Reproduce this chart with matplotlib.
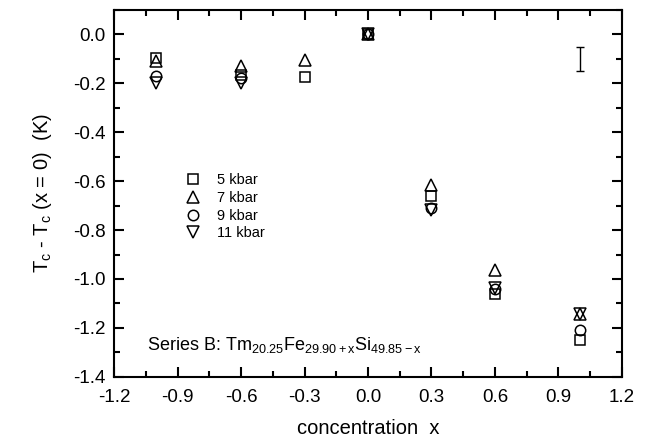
import numpy as np
import matplotlib.pyplot as plt
from matplotlib.ticker import MultipleLocator

plt.rcParams['font.family'] = ['Liberation Sans', 'DejaVu Sans']
plt.rcParams['mathtext.fontset'] = 'custom'
plt.rcParams['mathtext.rm'] = 'Liberation Sans'
plt.rcParams['mathtext.it'] = 'Liberation Sans'

conc = [-1.0, -0.6, -0.3, 0.0, 0.3, 0.6, 1.0]
dtc_5 = [-0.095, -0.165, -0.175, 0.0, -0.66, -1.06, -1.25]
dtc_7 = [-0.11, -0.13, -0.105, 0.0, -0.615, -0.965, -1.145]
dtc_9 = [-0.17, -0.18, np.nan, 0.0, -0.71, -1.04, -1.21]
dtc_11 = [-0.20, -0.20, np.nan, 0.0, -0.72, -1.035, -1.145]

err_x = 1.0
err_y = -0.10
err_size = 0.05

fig = plt.figure(figsize=(6.56, 4.46), dpi=100)
ax = fig.add_axes([0.174, 0.155, 0.774, 0.823])

ax.plot(conc, dtc_5, 's', ms=6.5, mfc='none', mec='black', mew=1.1, label='5 kbar')
ax.plot(conc, dtc_7, '^', ms=8.5, mfc='none', mec='black', mew=1.1, label='7 kbar')
ax.plot(conc, dtc_9, 'o', ms=7.5, mfc='none', mec='black', mew=1.1, label='9 kbar')
ax.plot(conc, dtc_11, 'v', ms=8.5, mfc='none', mec='black', mew=1.1, label='11 kbar')

ax.errorbar([err_x], [err_y], yerr=[err_size], fmt='none', ecolor='black',
            elinewidth=1.0, capsize=3, capthick=1.0)

ax.set_xlim(-1.2, 1.2)
ax.set_ylim(-1.4, 0.1)
ax.xaxis.set_major_locator(MultipleLocator(0.3))
ax.xaxis.set_minor_locator(MultipleLocator(0.15))
ax.yaxis.set_major_locator(MultipleLocator(0.2))
ax.yaxis.set_minor_locator(MultipleLocator(0.1))
ax.xaxis.set_major_formatter(plt.FormatStrFormatter('%.1f'))
ax.yaxis.set_major_formatter(plt.FormatStrFormatter('%.1f'))
ax.tick_params(which='both', direction='in', top=True, right=True, width=1.5, labelsize=13.5)
ax.tick_params(which='major', length=7, pad=6)
ax.tick_params(axis='x', which='major', pad=9)
ax.tick_params(which='minor', length=4)
for s in ax.spines.values():
    s.set_linewidth(1.5)

ax.set_xlabel('concentration  x', fontsize=14.5, labelpad=9)
ax.set_ylabel('T$_c$ - T$_c$ (x = 0)  (K)', fontsize=14.5, labelpad=14)

ax.text(-1.045, -1.27, 'Series B: Tm$_{20.25}$Fe$_{29.90+x}$Si$_{49.85-x}$',
        fontsize=13, va='center', ha='left')

ax.legend(loc='upper left', bbox_to_anchor=(0.10, 0.59), frameon=False,
          fontsize=10.5, handletextpad=0.7, labelspacing=0.25, numpoints=1)

fig.savefig('out.png', dpi=100)
